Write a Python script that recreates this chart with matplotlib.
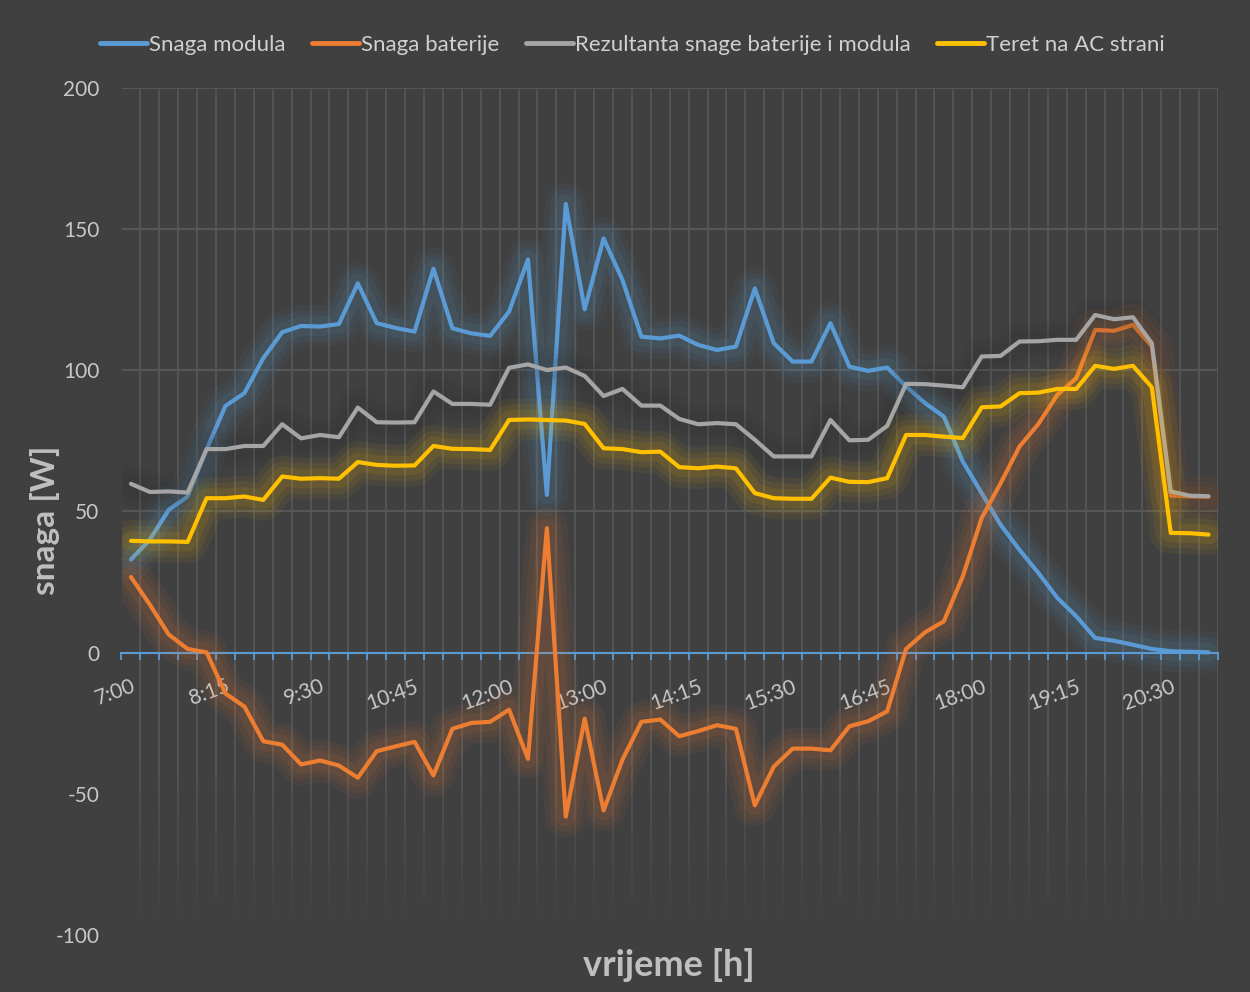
import numpy as np
import matplotlib
matplotlib.use("Agg")
from matplotlib import pyplot as plt
from matplotlib import patheffects as pe

# oznake na osi x (svaka peta tocka mjerenja)
oznake_vremena = ["7:00", "8:15", "9:30", "10:45", "12:00", "13:00",
                  "14:15", "15:30", "16:45", "18:00", "19:15", "20:30"]

snaga_modula = [33.0, 40.0, 50.6, 55.3, 72.0, 87.4, 91.9, 104.3, 113.5, 115.7,
                115.5, 116.4, 130.8, 116.7, 115.0, 113.7, 136.0, 114.9, 113.1, 112.2,
                120.8, 139.3, 55.9, 158.9, 121.6, 146.7, 132.0, 111.9, 111.3, 112.3,
                109.0, 107.2, 108.4, 129.0, 109.6, 103.1, 103.1, 116.7, 101.3, 99.8,
                101.0, 94.3, 88.4, 83.6, 67.7, 56.5, 45.3, 36.4, 28.2, 19.4,
                12.9, 5.2, 4.2, 2.8, 1.3, 0.5, 0.3, 0.1]

snaga_baterije = [26.8, 17.0, 6.4, 1.3, 0.1, -14.5, -19.1, -31.4, -32.6, -39.6,
                  -38.2, -40.0, -44.3, -34.9, -33.2, -31.6, -43.5, -27.0, -24.9, -24.5,
                  -20.2, -37.6, 44.1, -58.1, -23.4, -55.9, -37.9, -24.5, -23.7, -29.6,
                  -27.8, -25.7, -27.0, -54.1, -40.4, -34.0, -34.0, -34.6, -26.1, -24.3,
                  -20.8, 1.3, 7.2, 11.1, 27.0, 47.7, 60.0, 73.0, 81.0, 91.3,
                  97.2, 114.3, 114.0, 116.1, 108.5, 55.6, 55.3, 55.2]

rezultanta = [59.8, 56.9, 57.1, 56.7, 72.1, 72.1, 73.2, 73.2, 80.9, 75.9,
              77.1, 76.3, 86.8, 81.6, 81.5, 81.6, 92.5, 88.1, 88.1, 87.8,
              100.9, 102.1, 100.1, 101.0, 98.0, 90.9, 93.4, 87.5, 87.5, 82.8,
              80.9, 81.3, 80.9, 75.4, 69.5, 69.5, 69.5, 82.4, 75.2, 75.4,
              80.3, 95.2, 95.1, 94.6, 94.0, 104.9, 105.1, 110.2, 110.3, 110.8,
              110.8, 119.6, 118.1, 118.8, 109.6, 57.1, 55.6, 55.4]

teret_ac = [39.6, 39.4, 39.4, 39.2, 54.7, 54.7, 55.3, 54.1, 62.4, 61.6,
            61.8, 61.6, 67.5, 66.5, 66.2, 66.3, 73.2, 72.2, 72.1, 71.8,
            82.4, 82.6, 82.4, 82.2, 81.0, 72.4, 72.1, 71.0, 71.2, 65.7,
            65.3, 65.9, 65.3, 56.5, 54.7, 54.5, 54.5, 62.0, 60.5, 60.4,
            61.8, 77.1, 77.1, 76.5, 76.0, 86.9, 87.2, 91.9, 92.1, 93.4,
            93.4, 101.6, 100.5, 101.6, 94.0, 42.4, 42.3, 41.8]

serije = [("Snaga modula", snaga_modula, "#5B9BD5", "#5B9BD5"),
          ("Snaga baterije", snaga_baterije, "#ED7D31", "#ED7D31"),
          ("Rezultanta snage baterije i modula", rezultanta, "#A5A5A5", "#2E2E2E"),
          ("Teret na AC strani", teret_ac, "#FFC000", "#FFC000")]

bg = "#404040"
grid_c = "#565656"
txt = "#C8C8C8"

plt.rcParams["font.family"] = ["Lato", "DejaVu Sans"]
plt.rcParams["axes.unicode_minus"] = False

fig = plt.figure(figsize=(12.5, 9.92), dpi=100, facecolor=bg)
ax = fig.add_axes([0.0972, 0.0575, 0.8772, 0.8538], facecolor=bg)

n = len(snaga_modula)
x = np.arange(n)
granice = np.arange(-0.5, n, 1.0)

# vertikalne linije mreze (blijede prema dnu)
ax.vlines(granice, -40, 200, color=grid_c, lw=1.3, zorder=0)
koraci = np.linspace(-40, -95, 12)
for k in range(len(koraci) - 1):
    a = 1 - (k + 1) / len(koraci)
    ax.vlines(granice, koraci[k + 1], koraci[k], color=grid_c, lw=1.3, alpha=a, zorder=0)
for yy in [50, 100, 150, 200]:
    ax.hlines(yy, -0.5, n - 0.5, color=grid_c, lw=1.5, zorder=0)

for i, (ime, vals, boja, sjaj) in enumerate(serije):
    efekti = [pe.Stroke(linewidth=30, foreground=sjaj, alpha=0.06),
              pe.Stroke(linewidth=22, foreground=sjaj, alpha=0.07),
              pe.Stroke(linewidth=14, foreground=sjaj, alpha=0.09),
              pe.Normal()]
    ax.plot(x, vals, color=boja, lw=3.0, label=ime, zorder=3 + i,
            solid_joinstyle="round", solid_capstyle="round", path_effects=efekti)

ax.set_xlim(-0.5, n - 0.5)
ax.set_ylim(-100, 200)
ax.set_yticks([-100, -50, 0, 50, 100, 150, 200])

for s in ["top", "right", "left"]:
    ax.spines[s].set_visible(False)
ax.spines["bottom"].set_position(("data", 0))
ax.spines["bottom"].set_color("#5B9BD5")
ax.spines["bottom"].set_linewidth(1.5)
ax.spines["bottom"].set_zorder(2)

ax.set_xticks(x[::5])
ax.set_xticklabels(oznake_vremena, rotation=20, ha="right", va="top",
                   rotation_mode="anchor")
ax.set_xticks(granice, minor=True)
ax.tick_params(axis="x", which="major", length=0, pad=17, labelsize=15, labelcolor=txt)
ax.tick_params(axis="x", which="minor", length=5, width=1.3, color="#5B9BD5", direction="out")
ax.tick_params(axis="y", length=0, pad=16, labelsize=15, labelcolor=txt)

fig.text(0.036, 0.475, "snaga [W]", fontsize=24, fontweight="bold", color="#BFBFBF",
         ha="center", va="center", rotation=90)
fig.text(0.535, 0.027, "vrijeme [h]", fontsize=26, fontweight="bold", color="#BFBFBF",
         ha="center", va="center")

leg = fig.legend(loc="center", bbox_to_anchor=(0.506, 0.955), ncol=4, frameon=False,
                 fontsize=16, handlelength=2.1, handletextpad=0.1, columnspacing=1.2)
for t in leg.get_texts():
    t.set_color("#D0D0D0")
for h in leg.legend_handles:
    h.set_path_effects([])
    h.set_linewidth(3.5)

fig.savefig("out.png", dpi=100, facecolor=bg)
